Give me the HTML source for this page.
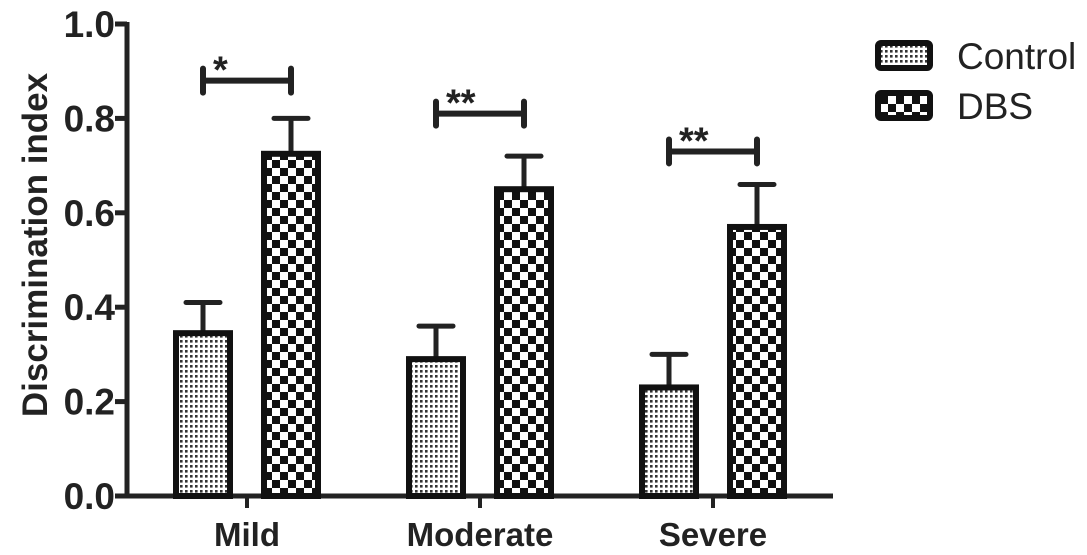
<!DOCTYPE html>
<html><head><meta charset="utf-8"><style>
body{margin:0;background:#fff;}
svg{display:block;font-family:"Liberation Sans",Arial,sans-serif;}
</style></head><body>
<svg id="chart" width="1087" height="555" viewBox="0 0 1087 555">
<defs>
<pattern id="dots" width="5" height="5" patternUnits="userSpaceOnUse"><rect width="5" height="5" fill="#fff"/><rect width="2.6" height="2.6" fill="#333"/></pattern>
<pattern id="check" width="16" height="16" patternUnits="userSpaceOnUse"><rect width="16" height="16" fill="#fff"/><rect width="8" height="8" fill="#111"/><rect x="8" y="8" width="8" height="8" fill="#111"/></pattern>
</defs>
<g id="plot"></g>
</svg>
<script>
const categories = ["Mild","Moderate","Severe"];
const controlValues = [0.345,0.29,0.23];
const controlErrors = [0.065,0.07,0.07];
const dbsValues = [0.725,0.65,0.57];
const dbsErrors = [0.075,0.07,0.09];
const significance = ["*","**","**"];
const bracketLevels = [0.88,0.81,0.73];
const yTicks = [0,0.2,0.4,0.6,0.8,1.0];
const yTickLabels = ["0.0","0.2","0.4","0.6","0.8","1.0"];

const NS="http://www.w3.org/2000/svg";
const g=document.getElementById('plot');
const x0=127, xEnd=833, y0=496, y1=24;
function y(v){return y0-(y0-y1)*v;}
const catX=i=>247+i*233;
function el(t,a,p){const e=document.createElementNS(NS,t);for(const k in a)e.setAttribute(k,a[k]);(p||g).appendChild(e);return e;}

let ax=el('line',{x1:x0,y1:y(1)-2,x2:x0,y2:y0,stroke:'#222','stroke-width':5});


ax=el('line',{x1:x0-2,y1:y0,x2:xEnd,y2:y0,stroke:'#222','stroke-width':5});


yTicks.forEach((t,i)=>{
  const tk=el('line',{x1:x0-12,y1:y(t),x2:x0,y2:y(t),stroke:'#222','stroke-width':5});
  
  
  const tx=el('text',{x:x0-12,y:y(t)+13,'text-anchor':'end','font-size':37,'font-weight':'bold',fill:'#222'});
  tx.textContent=yTickLabels[i];
  
  
});
const yt=el('text',{x:0,y:0,transform:'translate(47,245) rotate(-90)','text-anchor':'middle','font-size':35,'font-weight':'bold',fill:'#222'});
yt.textContent='Discrimination index';



const bw=54;
function bar(cx,v,e,fill,name){
  const eb=el('line',{x1:cx,y1:y(v),x2:cx,y2:y(v+e),stroke:'#222','stroke-width':5});
  
  
  const cap=el('line',{x1:cx-17,y1:y(v+e),x2:cx+17,y2:y(v+e),stroke:'#222','stroke-width':5,'stroke-linecap':'round'});
  
  
  const r=el('rect',{x:cx-bw/2,y:y(v),width:bw,height:y0-y(v),fill:fill,stroke:'#111','stroke-width':6});
  
  
}
categories.forEach((c,i)=>{
  const cx=catX(i);
  const tk=el('line',{x1:cx,y1:y0,x2:cx,y2:y0+12,stroke:'#222','stroke-width':4});
  
  
  const lb=el('text',{x:cx,y:y0+50,'text-anchor':'middle','font-size':33,'font-weight':'bold',fill:'#222'});
  lb.textContent=c;
  
  
  bar(cx-44,controlValues[i],controlErrors[i],'url(#dots)','bar-control-'+c.toLowerCase());
  bar(cx+44,dbsValues[i],dbsErrors[i],'url(#check)','bar-dbs-'+c.toLowerCase());
  const by=y(bracketLevels[i]);
  const br=el('path',{d:`M${cx-44} ${by-12}V${by+12}M${cx-44} ${by}H${cx+44}M${cx+44} ${by-12}V${by+12}`,stroke:'#222','stroke-width':6,fill:'none','stroke-linecap':'round'});
  
  
  const st=el('text',{x:cx-44+10,y:by+2,'font-size':38,'font-weight':'bold',fill:'#222'});
  st.textContent=significance[i];
  
  
});
[['Control','url(#dots)',41],['DBS','url(#check)',91]].forEach(([n,f,ly])=>{
  const r=el('rect',{x:878,y:ly+2,width:52,height:25,rx:3,fill:f,stroke:'#111','stroke-width':6});
  
  
  const t=el('text',{x:957,y:ly+28,'font-size':37,fill:'#222'});
  t.textContent=n;
  
  
});
</script>
</body></html>
